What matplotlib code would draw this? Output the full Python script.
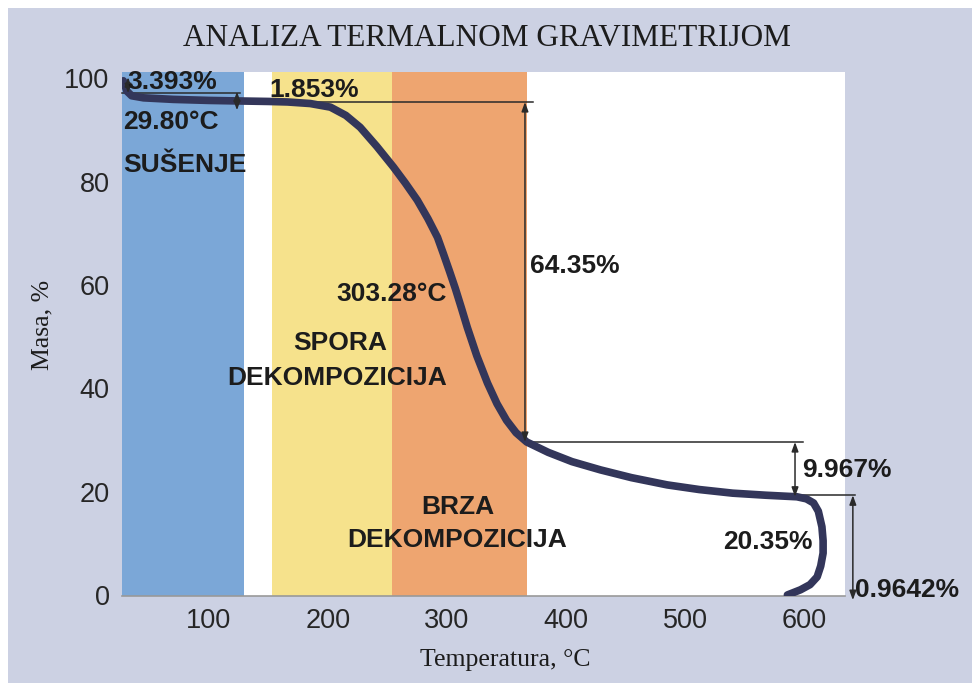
import matplotlib.pyplot as plt
from matplotlib.patches import Rectangle

# Data
temp = [28, 31, 35, 45, 70, 100, 124, 150, 166, 185, 202, 215, 227, 241, 255, 265,
        275, 284, 292, 297, 302, 307, 312, 317, 325, 334, 342, 350, 358, 367, 385,
        405, 429, 455, 485, 512, 540, 568, 594, 602, 608, 612, 615, 616, 616, 614,
        611, 605, 597, 586]
mass = [99.5, 97.5, 96.6, 96.2, 95.9, 95.7, 95.6, 95.5, 95.4, 95.1, 94.4, 92.8, 90.5,
        86.8, 82.8, 79.7, 76.4, 72.8, 69.2, 66.0, 62.7, 59.3, 55.6, 51.8, 46.3, 41.0,
        37.0, 33.8, 31.4, 29.6, 27.6, 25.8, 24.2, 22.7, 21.3, 20.4, 19.7, 19.3, 19.0,
        18.6, 17.8, 16.2, 13.2, 10.5, 8.1, 5.6, 3.5, 2.0, 1.0, 0.0]

# stage bands (start, end, colour)
band_start = [26.9, 153, 254]
band_end = [129, 254, 367]
band_color = ['#7ba7d7', '#f6e28c', '#eea570']

xticks = [100, 200, 300, 400, 500, 600]
yticks = [0, 20, 40, 60, 80, 100]

# measurement lines: (x0, y0, x1, y1)
hlines = [(26.9, 97.1, 126, 97.1), (123.5, 95.4, 372, 95.4),
          (365.5, 29.6, 599, 29.6), (594, 19.3, 643, 19.3)]
# double arrows: (x, y_top, y_bottom)
arrows = [(32, 100.2, 97.1), (123.5, 97.4, 93.8), (365.5, 95.4, 29.6),
          (592.4, 29.6, 19.0), (641, 19.3, -1.0)]

# labels: (text, x, y, ha)
labels = [('3.393%', 31, 99.2, 'left'), ('1.853%', 151, 97.7, 'left'),
          ('29.80°C', 27.7, 91.5, 'left'), ('SUŠENJE', 27.7, 83.2, 'left'),
          ('303.28°C', 300, 58.2, 'right'), ('64.35%', 369.7, 63.6, 'left'),
          ('SPORA', 210, 48.7, 'center'), ('DEKOMPOZICIJA', 207.6, 42.0, 'center'),
          ('BRZA', 309, 17.0, 'center'), ('DEKOMPOZICIJA', 308.4, 10.6, 'center'),
          ('9.967%', 598.3, 24.2, 'left'), ('20.35%', 607.6, 10.3, 'right'),
          ('0.9642%', 643, 1.0, 'left')]

bg = '#ccd1e3'
ink = '#1c1c1c'

fig = plt.figure(figsize=(9.74, 6.86), dpi=100, facecolor='white')
fig.patches.append(Rectangle((8/974, 3/686), 964/974, 675/686, transform=fig.transFigure,
                             facecolor=bg, edgecolor='none', zorder=-10))
ax = fig.add_axes([122/974, 1 - 596/686, 723/974, 524/686])
ax.set_facecolor('white')

for s, e, c in zip(band_start, band_end, band_color):
    ax.axvspan(s, e, color=c, lw=0, zorder=1)

ax.plot(temp, mass, color='#33365a', lw=5.5, solid_capstyle='round',
        solid_joinstyle='round', zorder=4)

for x0, y0, x1, y1 in hlines:
    ax.plot([x0, x1], [y0, y1], color='#2a2a2a', lw=1.1, zorder=3, clip_on=False)

for x, yt, yb in arrows:
    ax.annotate('', xy=(x, yb), xytext=(x, yt), annotation_clip=False,
                arrowprops=dict(arrowstyle='<|-|>,head_length=0.55,head_width=0.2',
                                color='#2a2a2a', lw=1.1, shrinkA=0, shrinkB=0), zorder=5)

for txt, x, y, ha in labels:
    ax.text(x, y, txt, ha=ha, va='center', fontsize=19, fontweight='bold',
            family='Liberation Sans', color=ink, zorder=6, clip_on=False)

ax.set_xlim(26.9, 634.4)
ax.set_ylim(-0.2, 101.2)
ax.set_xticks(xticks)
ax.set_yticks(yticks)
ax.tick_params(length=0, labelsize=19.5, labelcolor='#262626', pad=9)
for lab in ax.get_xticklabels() + ax.get_yticklabels():
    lab.set_family('Liberation Sans')
for side in ['left', 'top', 'right']:
    ax.spines[side].set_visible(False)
ax.spines['bottom'].set_color('#999999')
ax.spines['bottom'].set_linewidth(1.2)

fig.text(487/974, 1 - 38/686, 'ANALIZA TERMALNOM GRAVIMETRIJOM', ha='center', va='center',
         fontsize=22.5, family='Liberation Serif', color=ink)
fig.text(42/974, 1 - 325/686, 'Masa, %', rotation=90, ha='center', va='center',
         fontsize=18.5, family='Liberation Serif', color=ink)
fig.text(505/974, 1 - 660/686, 'Temperatura, °C', ha='center', va='center',
         fontsize=18.5, family='Liberation Serif', color=ink)

fig.savefig('out.png', dpi=100, facecolor=fig.get_facecolor())
